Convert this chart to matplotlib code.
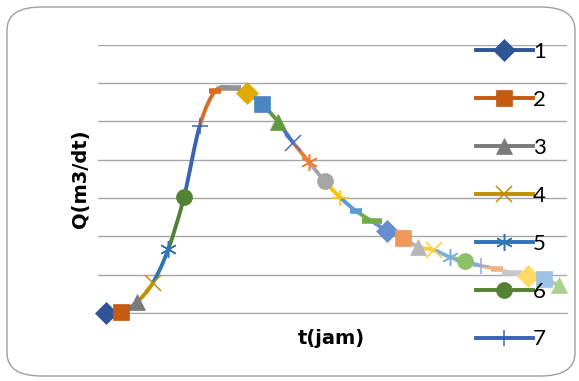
import matplotlib
matplotlib.use("Agg")
import matplotlib.pyplot as plt
from matplotlib.path import Path
from matplotlib.patches import PathPatch, FancyBboxPatch
from matplotlib.lines import Line2D

plt.rcParams['font.family'] = ['Lato', 'DejaVu Sans']

# data (one point per series, 30 series)
t = list(range(1, 31))
q = [0.00, 0.03, 0.29, 0.78, 1.67, 3.02, 4.87, 5.79, 5.87, 5.74,
     5.45, 4.99, 4.43, 3.94, 3.43, 3.01, 2.66, 2.40, 2.14, 1.96,
     1.72, 1.64, 1.46, 1.35, 1.23, 1.15, 1.04, 0.96, 0.89, 0.72]
legend_labels = ['1', '2', '3', '4', '5', '6', '7']

# Excel-like styling per series
colors = ['#2F5597', '#C55A11', '#7B7B7B', '#BF9000', '#2E75B6', '#548235',
          '#3A64B0', '#D86D25', '#939393', '#E0AA00', '#4A87C0', '#629A3E',
          '#4472C4', '#ED7D31', '#A5A5A5', '#FFC000', '#5B9BD5', '#70AD47',
          '#698ED0', '#F1975A', '#B7B7B7', '#FFCD33', '#7CAFDD', '#8CC168',
          '#8FAADC', '#F4B183', '#C9C9C9', '#FFD966', '#9DC3E6', '#A9D18E']
marker_cycle = ['D', 's', '^', 'x', (6, 2, 0), 'o', '+', 'short', 'long']


def marker_style(i):
    m = marker_cycle[i % 9]
    c = colors[i]
    if m == 'short':
        return dict(marker='_', ms=9, mew=4, mec=c)
    if m == 'long':
        return dict(marker='_', ms=15, mew=4, mec=c)
    if m in ('x', '+', (6, 2, 0)):
        return dict(marker=m, ms=12, mew=1.1, mec=c)
    size = {'D': 11, 's': 11, '^': 12, 'o': 11.5}[m]
    return dict(marker=m, ms=size, mfc=c, mec=c, mew=0.5)


fig = plt.figure(figsize=(5.79, 3.81), dpi=100)

# rounded chart border
border = FancyBboxPatch((7 / 579, 5 / 381), 568 / 579, 369 / 381,
                        boxstyle="round,pad=0,rounding_size=0.06",
                        transform=fig.transFigure, fill=False,
                        edgecolor='#9E9E9E', lw=1.0)
fig.patches.append(border)

ax = fig.add_axes([98 / 579, 68 / 381, 469 / 579, 268.5 / 381])
ax.set_xlim(0.5, 30.5)
ax.set_ylim(0, 7)
ax.set_yticks(range(8))
ax.set_xticks([])
ax.tick_params(left=False, labelleft=False)
ax.grid(axis='y', color='#A6A6A6', lw=1.0)
ax.set_axisbelow(True)
for s in ['top', 'right', 'left']:
    ax.spines[s].set_visible(False)
ax.spines['bottom'].set_color('#A6A6A6')
ax.patch.set_alpha(0)

# smoothed segments (Catmull-Rom as cubic Bezier), segment i-1 -> i in colour i
n = len(t)
for i in range(1, n):
    p0 = (t[max(i - 2, 0)], q[max(i - 2, 0)])
    p1 = (t[i - 1], q[i - 1])
    p2 = (t[i], q[i])
    p3 = (t[min(i + 1, n - 1)], q[min(i + 1, n - 1)])
    c1 = (p1[0] + (p2[0] - p0[0]) / 6, p1[1] + (p2[1] - p0[1]) / 6)
    c2 = (p2[0] - (p3[0] - p1[0]) / 6, p2[1] - (p3[1] - p1[1]) / 6)
    path = Path([p1, c1, c2, p2], [Path.MOVETO, Path.CURVE4, Path.CURVE4, Path.CURVE4])
    ax.add_patch(PathPatch(path, fill=False, edgecolor=colors[i], lw=2.8,
                           capstyle='butt', zorder=2 + i * 0.01))

for i in range(n):
    ax.plot([t[i]], [q[i]], linestyle='none', zorder=3 + i * 0.01,
            clip_on=False, **marker_style(i))

fig.text(80 / 579, 1 - 179 / 381, 'Q(m3/dt)', fontsize=14, fontweight='bold',
         family='DejaVu Sans', rotation=90, ha='center', va='center')
fig.text(331 / 579, 1 - 338 / 381, 't(jam)', fontsize=14, fontweight='bold',
         family='DejaVu Sans', ha='center', va='center')

handles = [Line2D([0], [0], color=colors[i], lw=2.8, **marker_style(i))
           for i in range(len(legend_labels))]
fig.legend(handles, legend_labels, loc='upper left',
           bbox_to_anchor=(465 / 579, 1 - 31 / 381), frameon=False,
           fontsize=16, handlelength=2.55, handletextpad=0.0,
           labelspacing=1.255, borderpad=0)

fig.savefig('out.png', dpi=100)
